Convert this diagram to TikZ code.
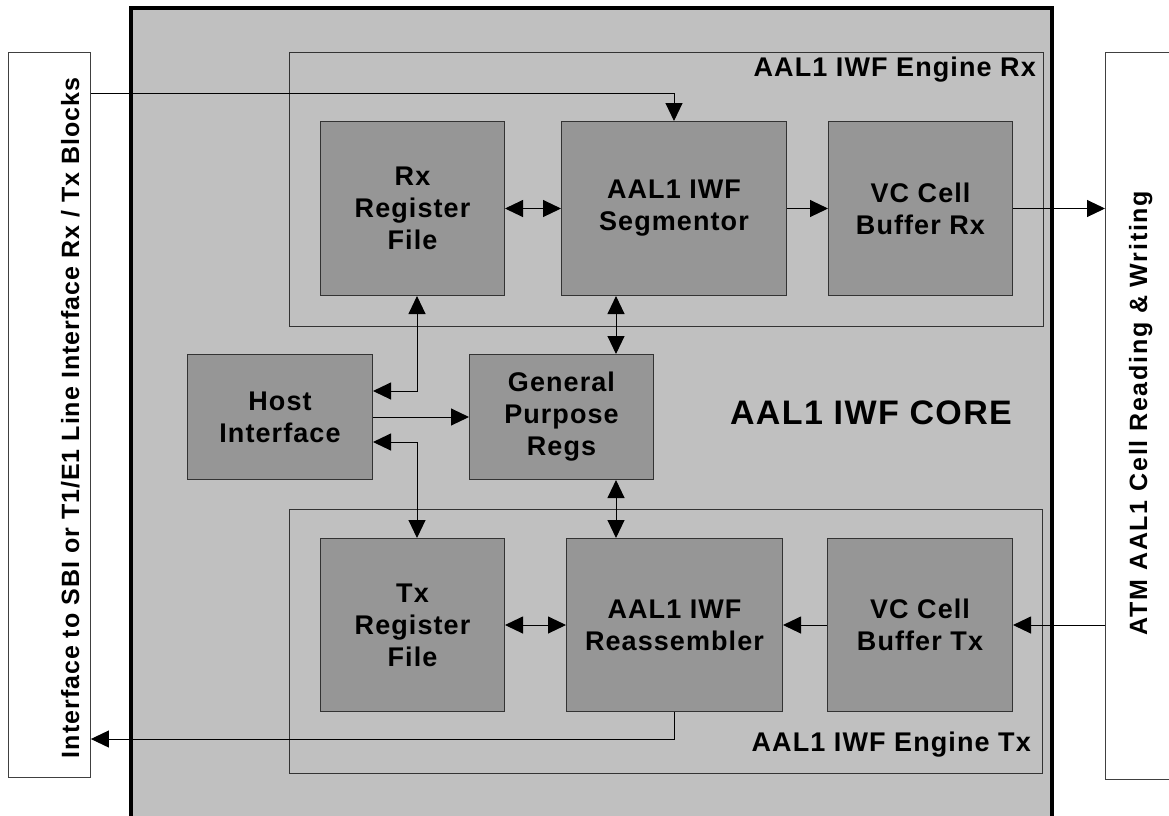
\documentclass[tikz,border=0pt]{standalone}
\usepackage{fontspec}
\setmainfont[LetterSpace=4]{Liberation Sans}
\newfontfamily\widesans[LetterSpace=7]{Liberation Sans}
\usetikzlibrary{arrows.meta}
\definecolor{coregray}{RGB}{192,192,192}
\definecolor{blkgray}{RGB}{150,150,150}
\newcommand{\blkfont}{\fontsize{27}{32}\selectfont\bfseries}
\newcommand{\engfont}{\fontsize{27}{30}\selectfont\bfseries}
\newcommand{\corefont}{\fontsize{34}{40}\selectfont\bfseries}
\newcommand{\sidefont}{\fontsize{25}{30}\selectfont\bfseries}
\tikzset{
  corebox/.style={draw=black, line width=3.5pt, fill=coregray},
  enginebox/.style={draw=black!80, line width=1pt, fill=coregray, anchor=north west, inner sep=0pt},
  extbox/.style={draw=black!75, line width=0.9pt, fill=white, anchor=north west, inner sep=0pt},
  blk/.style={draw=black!80, line width=1pt, fill=blkgray, anchor=north west,
    align=center, font=\blkfont, inner sep=0pt},
  tip/.tip={Triangle[length=18pt,width=17pt]},
  conn/.style={line width=1pt, -tip},
  biconn/.style={line width=1pt, tip-tip},
}
\begin{document}
\begin{tikzpicture}[x=1pt,y=-1pt]
\useasboundingbox (0,0) rectangle (1169,815);

% core block, running off the lower edge
\draw[corebox] (131,8) rectangle (1052,850);

% engines
\node[enginebox, minimum width=754pt, minimum height=274pt] (engrx) at (289,52) {};
\node[enginebox, minimum width=753pt, minimum height=264pt] (engtx) at (289,509) {};

% external interfaces
\node[extbox, minimum width=82pt, minimum height=725pt] (ifl) at (8,52) {};
\node[extbox, minimum width=90pt, minimum height=727pt] (atm) at (1105,52) {};

% functional blocks
\node[blk, minimum width=184pt, minimum height=174pt] (rx)   at (320,121) {Rx\\Register\\File};
\node[blk, minimum width=225pt, minimum height=174pt] (seg)  at (561,121) {AAL1 IWF\\Segmentor};
\node[blk, minimum width=184pt, minimum height=174pt] (vcrx) at (828,121) {VC Cell\\Buffer Rx};
\node[blk, minimum width=185pt, minimum height=125pt] (host) at (187,354) {Host\\Interface};
\node[blk, minimum width=184pt, minimum height=125pt] (gp)   at (469,354) {General\\Purpose\\Regs};
\node[blk, minimum width=184pt, minimum height=173pt] (tx)   at (320,538) {Tx\\Register\\File};
\node[blk, minimum width=216pt, minimum height=173pt] (ras)  at (566,538) {AAL1 IWF\\Reassembler};
\node[blk, minimum width=185pt, minimum height=173pt] (vctx) at (827,538) {VC Cell\\Buffer Tx};

% routing helpers
\coordinate (rxtap) at (0,93);
\coordinate (txtap) at (0,739);
\coordinate (gx) at (616,0);
\coordinate (hx) at (417,0);
\coordinate (hy1) at (0,391);
\coordinate (hy2) at (0,442);

% connectors
\draw[conn] (ifl.east |- rxtap) -| (seg.north);
\draw[biconn] (rx.east) -- (seg.west);
\draw[conn] (seg.east) -- (vcrx.west);
\draw[conn] (vcrx.east) -- (vcrx.east -| atm.west);
\draw[biconn] (seg.south -| gx) -- (gp.north -| gx);
\draw[biconn] (gp.south -| gx) -- (ras.north -| gx);
\draw[conn] (host.east) -- (gp.west);
\draw[biconn] (rx.south -| hx) |- (host.east |- hy1);
\draw[biconn] (host.east |- hy2) -| (tx.north -| hx);
\draw[biconn] (tx.east) -- (ras.west);
\draw[conn] (vctx.west) -- (ras.east);
\draw[conn] (atm.west |- vctx.east) -- (vctx.east);
\draw[conn] (ras.south) |- (ifl.east |- txtap);

% labels
\node[font=\engfont, anchor=east, inner sep=0pt] (lrx) at (1036,70) {AAL1 IWF Engine Rx};
\node[font=\engfont, anchor=east, inner sep=0pt] (ltx) at (1031,745) {AAL1 IWF Engine Tx};
\node[font=\corefont, inner sep=0pt] (lcore) at (871,413) {AAL1 IWF CORE};
\node[font=\sidefont, rotate=90, anchor=base, inner sep=0pt] (lifl) at (79,418)
  {Interface to SBI or T1/E1 Line Interface Rx / Tx Blocks};
\node[font=\widesans\sidefont, rotate=90, anchor=base, inner sep=0pt] (latm) at (1147,413)
  {ATM AAL1 Cell Reading \& Writing};
\end{tikzpicture}
\end{document}
